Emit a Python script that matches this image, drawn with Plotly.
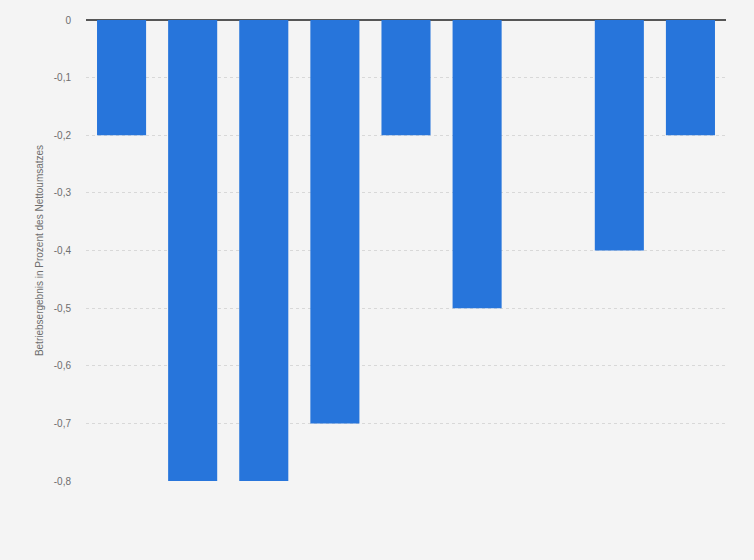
import plotly.graph_objects as go

# Data (category labels are not shown in the reference)
categories = ["1", "2", "3", "4", "5", "6", "7", "8", "9"]
values = [-0.2, -0.8, -0.8, -0.7, -0.2, -0.5, 0, -0.4, -0.2]
y_ticks = [0, -0.1, -0.2, -0.3, -0.4, -0.5, -0.6, -0.7, -0.8]
y_ticktext = ["0", "-0,1", "-0,2", "-0,3", "-0,4", "-0,5", "-0,6", "-0,7", "-0,8"]

fig = go.Figure()

fig.add_trace(go.Bar(
    x=categories,
    y=values,
    marker=dict(color="#2775db", line=dict(width=0)),
    hoverinfo="y",
))

fig.update_layout(
    width=754,
    height=560,
    margin=dict(l=86, r=28, t=20, b=79),
    paper_bgcolor="#f4f4f4",
    plot_bgcolor="#f4f4f4",
    bargap=0.31,
    showlegend=False,
    font=dict(family="Liberation Sans, Arial, sans-serif", size=10, color="#6e6e6e"),
    xaxis=dict(showticklabels=False, showgrid=False, zeroline=False,
               range=[-0.5, 8.5]),
    yaxis=dict(
        range=[-0.8, 0],
        tickvals=y_ticks,
        ticktext=y_ticktext,
        showgrid=True,
        gridcolor="#d8d8d8",
        griddash="dot",
        zeroline=True,
        zerolinecolor="#555555",
        zerolinewidth=1.5,
        ticks="",
        ticklabelstandoff=14,
        title=dict(text="Betriebsergebnis in Prozent des Nettoumsatzes",
                   font=dict(size=10, color="#6e6e6e"), standoff=8),
    ),
)

# page body has a default 8px margin; drop it so the figure sits at 0,0
fig.write_html("out.html",
               config={"displayModeBar": False},
               post_script="document.body.style.margin='0';")
